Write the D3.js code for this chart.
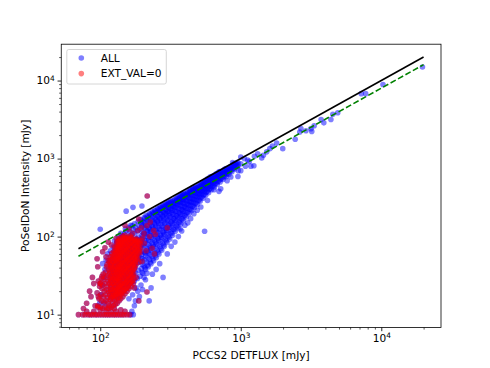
<!DOCTYPE html>
<html>
<head>
<meta charset="utf-8">
<script src="https://cdn.jsdelivr.net/npm/d3@7"></script>
<style>
  body { margin: 0; background: #fff; }
  text { font-family: "DejaVu Sans", sans-serif; }
</style>
</head>
<body>
<svg id="chart"></svg>
<script>
// ---- data: [PCCS2 DETFLUX, PoSeIDoN intensity] in mJy ----
// sources only in ALL (the EXT_VAL=0 ones are added to ALL below)
const allDense = [
  [148,108],[153,118],[151,126],[146,98],[155,88],
  [158,24],[162,30],[159,37],[163,45],[157,55],[161,67],[164,81],[158,98],[162,115],[160,131],[165,140],
  [167,26],[170,33],[166,41],[171,50],[168,61],[165,74],[170,89],[167,106],[172,124],[169,138],
  [175,27],[179,34],[176,42],[180,52],[174,63],[178,77],[181,93],[176,110],[179,130],[175,146],
  [184,29],[187,37],[183,46],[188,56],[185,68],[182,82],[187,99],[184,118],[189,138],[186,156],
  [192,31],[196,39],[193,48],[197,59],[191,72],[195,86],[198,104],[192,124],[196,146],[194,165],
  [201,34],[205,42],[200,52],[206,63],[202,77],[199,92],[204,110],[207,131],[201,154],[205,176],
  [210,38],[214,47],[211,57],[215,69],[209,83],[213,100],[216,119],[210,141],[214,165],[212,188],
  [220,41],[224,51],[219,62],[225,75],[221,90],[218,108],[223,128],[226,151],[220,175],[224,198],
  [230,45],[234,56],[229,68],[235,82],[231,98],[228,117],[233,138],[236,162],[230,186],[234,208],
  [240,49],[245,61],[239,74],[244,89],[241,106],[238,126],[243,149],[246,173],[240,197],[244,216],
  [251,54],[255,67],[250,81],[256,97],[252,115],[249,136],[254,159],[257,184],[251,207],[255,226],
  [262,60],[266,74],[261,89],[267,106],[263,125],[260,147],[265,171],[268,196],[262,218],[266,236],
  [274,67],[278,82],[273,98],[279,116],[275,136],[272,159],[277,184],[280,208],[274,230],[278,246],
  [286,75],[290,91],[285,108],[291,127],[287,148],[284,171],[289,196],[292,220],[286,241],[290,258],
  [299,84],[303,101],[298,120],[304,140],[300,162],[297,186],[302,210],[305,234],[299,255],[303,270],
  [313,93],[317,112],[312,132],[318,154],[314,177],[311,201],[316,226],[319,249],[313,270],[317,285],
  [327,104],[331,124],[326,146],[332,169],[328,193],[325,218],[330,243],[333,266],[327,286],
  [342,117],[346,138],[341,161],[347,185],[343,210],[340,236],[345,262],[348,285],[342,302],
  [358,130],[362,153],[357,177],[363,202],[359,228],[356,254],[361,280],[364,303],[358,320],
  [374,145],[378,169],[373,194],[379,220],[375,247],[372,273],[377,299],[380,322],[374,340],
  [391,161],[395,186],[390,212],[396,239],[392,266],[389,293],[394,320],[397,343],[391,358],
  [409,178],[413,204],[408,231],[414,259],[410,287],[407,315],[412,341],[415,363],
  [428,196],[432,223],[427,251],[433,280],[429,309],[426,337],[431,364],[434,386],
  [448,216],[452,244],[447,273],[453,303],[449,333],[446,362],[451,388],[454,408],
  [469,236],[473,265],[468,296],[474,327],[470,357],[467,386],[472,412],[475,430],
  [491,258],[495,289],[490,320],[496,352],[492,383],[489,412],[494,437],
  [514,283],[518,315],[513,347],[519,379],[515,411],[512,441],[517,464],
  [538,310],[542,342],[537,375],[543,408],[539,441],[536,470],[541,492],
  [563,338],[567,371],[562,405],[568,439],[564,472],[561,502],[566,522],
  [590,366],[594,401],[589,436],[595,471],[591,505],[588,534],[593,555],
  [618,398],[622,434],[617,470],[623,506],[619,541],[616,570],[621,588],
  [648,432],[652,469],[647,506],[653,543],[649,578],[646,608],
  [680,465],[684,504],[679,543],[685,581],[681,617],[678,645],
  [713,500],[717,541],[712,581],[718,620],[714,657],[711,683],
  [748,540],[752,582],[747,624],[753,664],[749,700],
  [785,585],[789,628],[784,671],[790,712],[786,745],
  [824,630],[828,676],[823,721],[829,762],
  [865,680],[869,727],[864,772],[870,810],
  [908,735],[912,785],[907,832],[913,870],
  [953,795],[957,848],[952,895]
];
// second, interleaved layer of the dense ALL band
const allDense2 = [
  [198,35],[199,44],[197,53],[199,65],[198,79],[197,95],[199,114],[198,136],[197,158],
  [208,40],[207,50],[208,61],[207,74],[208,90],[207,108],[208,128],[207,150],[208,172],
  [217,43],[218,54],[217,65],[218,80],[217,96],[218,115],[217,137],[218,160],[217,182],
  [227,47],[226,59],[227,72],[226,87],[227,104],[226,124],[227,146],[226,170],[227,192],
  [237,52],[236,64],[237,78],[236,94],[237,112],[236,132],[237,155],[236,180],[237,202],
  [247,57],[248,71],[247,85],[248,102],[247,121],[248,142],[247,166],[248,190],[247,212],
  [258,63],[257,78],[258,94],[257,113],[258,133],[257,156],[258,180],[257,205],[258,228],
  [270,70],[269,86],[270,103],[269,123],[270,145],[269,170],[270,195],[269,220],[270,240],
  [282,78],[281,95],[282,113],[281,134],[282,157],[281,182],[282,207],[281,231],[282,251],
  [295,88],[294,106],[295,126],[294,148],[295,172],[294,197],[295,222],[294,245],[295,264],
  [308,98],[307,118],[308,139],[307,162],[308,187],[307,212],[308,237],[307,259],[308,277],
  [322,110],[321,131],[322,154],[321,178],[322,203],[321,229],[322,254],[321,276],
  [336,122],[335,145],[336,169],[335,194],[336,220],[335,246],[336,271],[335,292],
  [351,136],[350,160],[351,185],[350,211],[351,238],[350,265],[351,290],[350,310],
  [367,151],[366,176],[367,202],[366,229],[367,256],[366,283],[367,309],[366,330],
  [384,168],[383,194],[384,221],[383,249],[384,277],[383,304],[384,330],[383,350],
  [401,186],[400,213],[401,241],[400,270],[401,299],[400,327],[401,352],
  [420,205],[419,233],[420,262],[419,292],[420,322],[419,351],[420,376],
  [440,225],[439,254],[440,284],[439,315],[440,346],[439,375],[440,399],
  [460,247],[459,277],[460,308],[459,340],[460,371],[459,400],[460,420],
  [482,270],[481,301],[482,333],[481,366],[482,398],[481,426],
  [505,295],[504,328],[505,362],[504,395],[505,427],[504,454],
  [528,322],[527,356],[528,390],[527,424],[528,456],[527,482],
  [552,350],[551,385],[552,420],[551,455],[552,488],[551,512],
  [578,380],[577,416],[578,452],[577,488],[578,520],[577,545],
  [605,412],[604,449],[605,486],[604,523],[605,556],[604,578],
  [634,446],[633,485],[634,523],[633,560],[634,594],
  [665,482],[664,522],[665,561],[664,600],[665,632],
  [697,518],[696,560],[697,601],[696,640],[697,670],
  [731,558],[730,602],[731,644],[730,684],
  [767,600],[766,646],[767,690],[766,730],
  [806,648],[805,696],[806,742],
  [846,698],[845,748],[846,792],
  [888,752],[887,805],[886,850],
  [932,810],[931,866]
];
const allSingles = [
  [106,30],[103,24],[108,38],[104,45],[110,50],[101,18],[99,14],[107,14],[113,60],[118,66],
  [124,74],[131,84],[138,92],[144,102],[140,110],[134,100],[126,88],
  [175,13],[168,11],[172,10],[165,10],[180,22],[195,24],[210,28],[223,15],[235,33],[250,38],
  [265,45],[280,30],[300,60],[320,75],[340,85],[360,100],[380,118],[400,140],[420,150],
  [440,170],[370,125],[553,117],[464,197],[490,218],[520,240],[580,290],[645,400],[720,410],
  [700,380],[800,520],[850,580],[955,590],[1000,700],
  [100,124],[153,212],[171,237],[198,247],
  [1060,1000],[1000,1050],[1000,860],[1080,800],[1180,800],[920,820],[875,890],[1150,920],
  [1250,1070],[1320,1150],[1410,1020],[1450,1100],[1530,1220],[1610,1340],[1680,1450],
  [1800,1580],[1990,1340],[2440,1770],[2630,2190],[2680,2420],[2910,2270],[3160,2420],
  [3200,2230],[3330,2630],[3730,3170],[3900,2870],[4380,3170],[4520,3690],[4900,3860],
  [7200,6800],[7740,6800],[10280,8890],[19630,14930],[1240,810],[1120,960],[960,700],
  [160,16],[170,18],[178,15],[185,20],[190,17],[200,21],[205,30],[215,34],[230,22]
];

// EXT_VAL=0 sources
const extDense = [
  [96,13],[98,16],[95,19],[99,23],[97,27],
  [100,12.5],[102,15],[101,18],[103,21.5],[100,25],[102,29],
  [104,12],[106,14.5],[105,17],[107,20],[104,24],[106,28],[105,33],
  [108,12.5],[110,15],[109,18],[111,21],[108,25],[110,30],[109,35],[111,41],
  [112,12],[114,14],[113,16.5],[115,19.5],[112,23],[114,27],[113,32],[115,38],[112,44],[114,49],
  [116,13],[118,15.5],[117,18],[119,21],[116,25],[118,29],[117,34],[119,40],[116,47],[118,55],
  [120,12.5],[122,14.5],[121,17],[123,20],[120,23.5],[122,27.5],[121,32],[123,38],[120,44],[122,52],[121,61],
  [124,13],[126,15.5],[125,18],[127,21],[124,24.5],[126,29],[125,34],[127,40],[124,47],[126,55],[125,64],[127,73],
  [128,13.5],[130,16],[129,18.5],[131,22],[128,26],[130,30],[129,35],[131,41],[128,48],[130,56],[129,65],[131,76],
  [132,14],[134,16.5],[133,19.5],[135,23],[132,27],[134,31.5],[133,37],[135,43],[132,50],[134,58],[133,68],[135,79],[132,87],
  [136,15],[138,17.5],[137,20.5],[139,24],[136,28],[138,33],[137,38.5],[139,45],[136,52],[138,61],[137,71],[139,82],[136,93],
  [140,16],[142,18.5],[141,21.5],[143,25],[140,29.5],[142,34.5],[141,40],[143,47],[140,55],[142,64],[141,74],[143,86],[140,97],
  [145,17],[147,20],[146,23],[148,27],[145,31.5],[147,37],[146,43],[148,50],[145,58],[147,67],[146,78],[148,90],[145,102],
  [150,18.5],[152,21.5],[151,25],[153,29],[150,34],[152,39.5],[151,46],[153,53],[150,62],[152,72],[151,83],[153,95],[150,104],
  [155,20],[157,23],[156,27],[158,31.5],[155,36.5],[157,42],[156,49],[158,57],[155,66],[157,76],[156,88],[158,99],
  [160,21.5],[162,25],[161,29],[163,34],[160,39],[162,45],[161,52],[163,60],[160,70],[162,81],[161,93],[163,102],
  [166,23],[168,27],[167,31],[169,36],[166,42],[168,48.5],[167,56],[169,65],[166,75],[168,86],[167,97],
  [172,25],[174,29],[173,34],[175,39],[172,45],[174,52],[173,60],[175,69],[172,80],[174,92],
  [179,43],[178,49],[180,56],[179,64],[181,74],[178,85],[180,94],
  [188,47],[185,54],[187,62],[186,71],[188,82],[185,91],
  [192,62],[194,71],[193,81],[195,90]
];
// second, interleaved layer of the red core
const extDense2 = [
  [119,16.5],[118,19.5],[119,23],[118,27],[119,31],[118,36.5],[119,43],[118,50],
  [123,17.5],[122,21],[123,25],[122,29.5],[123,35],[122,41],[123,48],[122,56],
  [127,17],[128,20],[127,23],[128,27.5],[127,32],[128,37.5],[127,44],[128,51],[127,60],[128,69],
  [131,18],[132,21],[131,24.5],[132,29],[131,33.5],[132,39],[131,46],[132,53],[131,62],[132,72],[131,82],
  [135,18.5],[136,22],[135,25.5],[136,30],[135,35],[136,41],[135,48],[136,56],[135,65],[136,75],[135,86],
  [139,19],[140,23],[139,27],[140,31.5],[139,37],[140,43],[139,50],[140,58],[139,68],[140,78],[139,90],
  [144,20],[143,24],[144,28],[143,33],[144,38.5],[143,45],[144,52],[143,61],[144,71],[143,82],[144,94],
  [149,21],[148,25],[149,29.5],[148,34.5],[149,40],[148,47],[149,55],[148,64],[149,74],[148,85],[149,97],
  [154,22],[153,26],[154,31],[153,36],[154,42],[153,49],[154,57],[153,67],[154,78],[153,90],
  [159,24],[158,28],[159,33],[158,38.5],[159,44],[158,51],[159,60],[158,70],[159,81],[158,93],
  [164,26],[165,30],[164,35],[165,40],[164,46.5],[165,54],[164,63],[165,73],[164,84],[165,96],
  [170,27],[171,32],[170,37],[171,43],[170,49],[171,57],[170,66],[171,76],[170,88],
  [176,40],[177,46],[176,53],[177,61],[176,70],[177,80],[176,90],
  [183,51],[182,58],[183,67],[182,77],[183,87],
  [190,66],[189,76],[190,86]
];
const extSingles = [
  [70,10],[75,10],[78,10],[82,10],[85,10],[88,10],[92,10],[95,10],
  [99,10],[103,10],[107,10],[111,10],[115,10],[119,10],[124,10],
  [128,10],[133,10],[138,10],[143,10],[148,10],[155,10],[162,10],
  [80,11],[76,12],[90,11],[100,11.5],[110,11],[120,11],[130,11],
  [140,11.5],[150,11],[96,12.5],[115,12],[126,12],
  [216,331],[243,60],[95,52],[96,41],[86,17],[97,17],[100,25],[103,31],
  [188,15],[215,19.5],[234,71],[240,120],[215,139],[188,168],[185,120],
  [160,125],[170,110],[205,110],[225,100],[80,14],[84,20],[90,25],
  [92,13],[88,30],[150,140],[130,95],[120,78],[110,55],[227,154],
  [247,107],[300,130],[196,130],[180,30],[175,22],[206,82],[212,66],
  [200,96],[198,48],[104,64],[108,72],[114,85]
];

// reference lines
const lineX = [70, 20000];
const oneToOneY = [70, 20000];
const fitY = [56, 16000];

const xTickValues = [100, 1000, 10000];
const yTickValues = [10, 100, 1000, 10000];
const legendLabels = ["ALL", "EXT_VAL=0"];
const xLabel = "PCCS2 DETFLUX [mJy]";
const yLabel = "PoSeIDoN Intensity [mJy]";

// ---- layout ----
const width = 490, height = 368;
const plot = { left: 61.25, right: 441, top: 44.2, bottom: 327.5 };
const fontSize = 10.6;
const dotR = 2.8;

const svg = d3.select("#chart")
  .attr("width", width)
  .attr("height", height);

const x = d3.scaleLog().domain([52.8, 26600]).range([plot.left, plot.right]);
const y = d3.scaleLog().domain([6.84, 29240]).range([plot.bottom, plot.top]);

const extPoints = extDense.concat(extDense2, extSingles);
const allPoints = allDense.concat(allDense2, allSingles, extPoints);

// scatter: ALL first, then EXT_VAL=0 on top
const scatter = (pts, color) => svg.append("g")
  .selectAll("circle")
  .data(pts)
  .join("circle")
  .attr("cx", d => x(d[0]))
  .attr("cy", d => y(d[1]))
  .attr("r", dotR)
  .attr("fill", color)
  .attr("fill-opacity", 0.5);

scatter(allPoints, "#0000ff");
scatter(extPoints, "#ff0000");

// lines
const line = d3.line().x(d => x(d[0])).y(d => y(d[1]));

svg.append("path")
  .datum(lineX.map((v, i) => [v, oneToOneY[i]]))
  .attr("d", line)
  .attr("fill", "none")
  .attr("stroke", "black")
  .attr("stroke-width", 1.6);

svg.append("path")
  .datum(lineX.map((v, i) => [v, fitY[i]]))
  .attr("d", line)
  .attr("fill", "none")
  .attr("stroke", "#008000")
  .attr("stroke-width", 1.6)
  .attr("stroke-dasharray", "5.9,2.6");

// axes
const supLabel = function (d) {
  const t = d3.select(this);
  t.text("10");
  t.append("tspan")
    .attr("dy", "-0.45em")
    .attr("font-size", "0.7em")
    .text(Math.round(Math.log10(d)));
};

const xMinor = x.ticks().filter(v => !xTickValues.includes(v));
const yMinor = y.ticks().filter(v => !yTickValues.includes(v));

svg.append("g")
  .attr("transform", `translate(0,${plot.bottom})`)
  .call(d3.axisBottom(x).tickValues(xMinor).tickSize(2.1).tickFormat(""))
  .call(g => g.select(".domain").remove())
  .call(g => g.selectAll("line").attr("stroke-width", 0.65));

svg.append("g")
  .attr("transform", `translate(0,${plot.bottom})`)
  .call(d3.axisBottom(x).tickValues(xTickValues).tickSize(3.7).tickPadding(2.8))
  .call(g => g.select(".domain").remove())
  .call(g => g.selectAll("line").attr("stroke-width", 0.85))
  .call(g => g.selectAll("text")
    .attr("font-size", fontSize)
    .attr("font-family", "DejaVu Sans")
    .attr("fill", "black")
    .each(supLabel));

svg.append("g")
  .attr("transform", `translate(${plot.left},0)`)
  .call(d3.axisLeft(y).tickValues(yMinor).tickSize(2.1).tickFormat(""))
  .call(g => g.select(".domain").remove())
  .call(g => g.selectAll("line").attr("stroke-width", 0.65));

svg.append("g")
  .attr("transform", `translate(${plot.left},0)`)
  .call(d3.axisLeft(y).tickValues(yTickValues).tickSize(3.7).tickPadding(2.8))
  .call(g => g.select(".domain").remove())
  .call(g => g.selectAll("line").attr("stroke-width", 0.85))
  .call(g => g.selectAll("text")
    .attr("font-size", fontSize)
    .attr("font-family", "DejaVu Sans")
    .attr("fill", "black")
    .each(supLabel));

// frame
svg.append("rect")
  .attr("x", plot.left)
  .attr("y", plot.top)
  .attr("width", plot.right - plot.left)
  .attr("height", plot.bottom - plot.top)
  .attr("fill", "none")
  .attr("stroke", "black")
  .attr("stroke-width", 0.8);

// axis labels
svg.append("text")
  .attr("x", (plot.left + plot.right) / 2)
  .attr("y", 359)
  .attr("text-anchor", "middle")
  .attr("font-size", fontSize)
  .text(xLabel);

svg.append("text")
  .attr("transform", `translate(29,${(plot.top + plot.bottom) / 2}) rotate(-90)`)
  .attr("text-anchor", "middle")
  .attr("font-size", fontSize)
  .text(yLabel);

// legend
const legend = svg.append("g");
legend.append("rect")
  .attr("x", 66.8)
  .attr("y", 49.5)
  .attr("width", 99.5)
  .attr("height", 34.5)
  .attr("rx", 2)
  .attr("fill", "white")
  .attr("fill-opacity", 0.8)
  .attr("stroke", "#cccccc")
  .attr("stroke-width", 0.8);

const legendColors = ["#0000ff", "#ff0000"];
legendLabels.forEach((label, i) => {
  const ly = 58 + i * 15.6;
  legend.append("circle")
    .attr("cx", 81.3)
    .attr("cy", ly)
    .attr("r", dotR)
    .attr("fill", legendColors[i])
    .attr("fill-opacity", 0.5);
  legend.append("text")
    .attr("x", 100.7)
    .attr("y", ly + 3.8)
    .attr("font-size", fontSize)
    .text(label);
});
</script>
</body>
</html>
